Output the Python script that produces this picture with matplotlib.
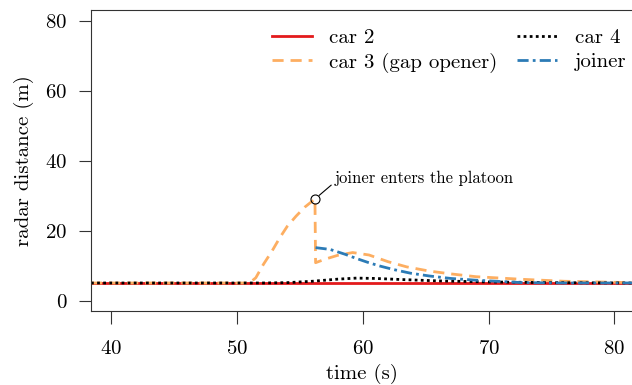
import numpy as np
import matplotlib
matplotlib.use("Agg")
import matplotlib.pyplot as plt

plt.rcParams["font.family"] = "serif"
plt.rcParams["font.serif"] = ["cmr10", "DejaVu Serif"]
plt.rcParams["axes.formatter.use_mathtext"] = True
plt.rcParams["mathtext.fontset"] = "cm"

t_car2 = [38.4, 81.4]
d_car2 = [5.0, 5.0]

t_car3 = [38.4, 51.0, 51.5, 52.1, 52.8, 53.4, 54.0, 54.7, 55.4, 56.2, 56.25,
          57.0, 58.0, 59.2, 60.5, 62.0, 63.5, 65.3, 67.0, 69.0, 72.7, 76.0, 81.4]
d_car3 = [5.0, 5.0, 6.5, 10.3, 14.2, 17.9, 21.2, 24.1, 26.7, 29.0, 10.8,
          11.8, 12.9, 13.7, 13.0, 11.1, 9.6, 8.4, 7.6, 6.8, 6.05, 5.5, 5.1]

t_car4 = [38.4, 52.0, 54.0, 56.0, 58.0, 59.5, 61.0, 63.0, 66.0, 70.0, 75.0, 81.4]
d_car4 = [5.0, 5.0, 5.1, 5.5, 6.1, 6.4, 6.3, 6.0, 5.6, 5.3, 5.1, 5.0]

t_joiner = [56.25, 57.4, 58.6, 59.5, 60.4, 61.3, 62.5, 63.8, 65.3, 67.0, 69.0,
            72.7, 76.0, 81.4]
d_joiner = [15.1, 14.6, 13.2, 12.0, 10.9, 9.9, 8.8, 7.8, 7.0, 6.3, 5.8,
            5.1, 5.0, 5.0]

enter_t, enter_d = 56.2, 29.0

fig = plt.figure(figsize=(6.32, 3.85), dpi=100)
ax = fig.add_axes([91/632, 1 - 311/385, 1 - 91/632, 301/385])

ax.plot(t_car2, d_car2, color="#e31a1c", lw=2, label="car 2")
ax.plot(t_car3, d_car3, color="#fdae61", lw=2, dashes=(4, 2.5),
        label="car 3 (gap opener)")
ax.plot(t_car4, d_car4, color="black", lw=2, dashes=(1, 1.2), label="car 4")
ax.plot(t_joiner, d_joiner, color="#2c7bb6", lw=2, dashes=(4, 1.5, 1, 1.5),
        label="joiner")

ax.plot([enter_t], [enter_d], "o", mfc="none", mec="black", ms=6.5, mew=0.8)
ax.annotate("joiner enters the platoon", xy=(enter_t, enter_d),
            xytext=(57.8, 35), fontsize=12, va="center",
            arrowprops=dict(arrowstyle="-", color="black", lw=0.8,
                            shrinkA=1, shrinkB=4, relpos=(0, 0.25)))

ax.set_xlim(38.4, 81.4)
ax.set_ylim(-3, 83)
ax.set_xticks([40, 50, 60, 70, 80])
ax.set_yticks([0, 20, 40, 60, 80])
ax.spines["right"].set_visible(False)
for s in ax.spines.values():
    s.set_linewidth(0.8)
    s.set_color("#333333")
ax.tick_params(direction="out", length=9, width=0.8, labelsize=15, pad=8,
               colors="#333333", labelcolor="black")
ax.tick_params(axis="x", pad=12)
ax.set_xlabel("time (s)", fontsize=15, labelpad=4)
ax.set_ylabel("radar distance (m)", fontsize=15, labelpad=8)

ax.legend(ncol=2, frameon=False, fontsize=15, loc="upper right",
          bbox_to_anchor=(1.024, 1.0), handlelength=1.9, handletextpad=0.85,
          columnspacing=0.95, labelspacing=0.25, borderaxespad=0.5)

fig.savefig("out.png", dpi=100)
